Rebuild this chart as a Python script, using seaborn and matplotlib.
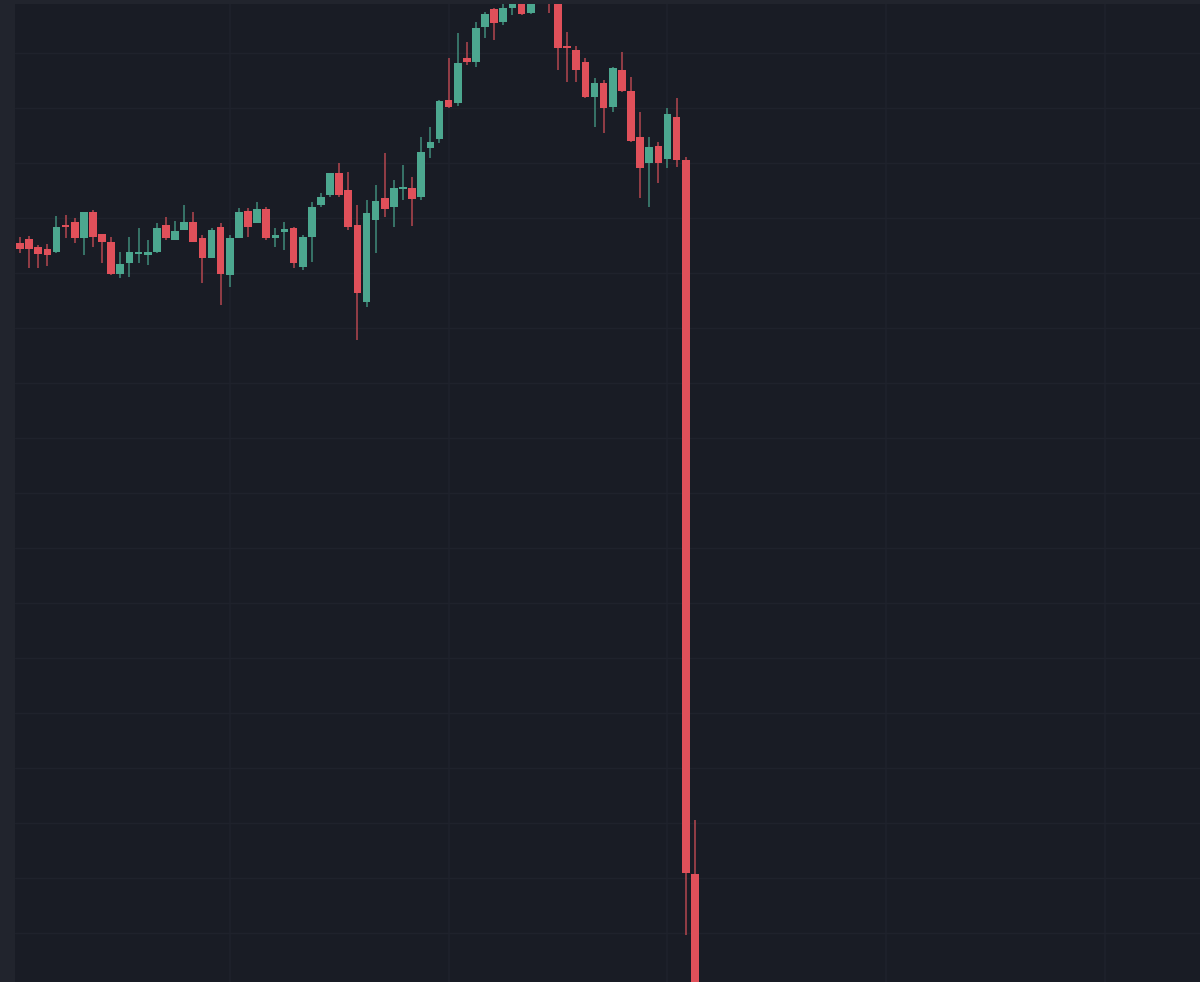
import numpy as np
import pandas as pd
import matplotlib
matplotlib.use("Agg")
import matplotlib.pyplot as plt
import seaborn as sns

# OHLC (arbitrary price units)
opens = [757, 761, 753, 751, 748, 775, 778, 762, 788, 766,
         758, 726, 737, 746, 745, 748, 775, 760, 770, 778,
         762, 742, 773, 725, 762, 789, 777, 791, 762, 768,
         772, 733, 763, 795, 805, 827, 810, 775, 698, 780,
         802, 793, 811, 812, 803, 852, 861, 900, 897, 942,
         938, 973, 991, 978, 992, 998, 987, 1012, 1035, 1025,
         954, 950, 938, 903, 917, 893, 930, 909, 863, 837,
         854, 841, 883, 840, 126]
highs = [763, 764, 755, 756, 784, 785, 782, 788, 790, 766,
         763, 748, 763, 772, 760, 777, 783, 779, 795, 788,
         765, 772, 777, 765, 792, 792, 798, 793, 772, 778,
         773, 765, 798, 807, 827, 837, 828, 795, 800, 815,
         847, 820, 835, 823, 863, 873, 900, 942, 967, 958,
         978, 988, 992, 1003, 1005, 1005, 1015, 1040, 1045, 1032,
         968, 954, 942, 922, 920, 933, 948, 923, 888, 863,
         858, 892, 902, 843, 180]
lows = [747, 732, 732, 734, 747, 762, 757, 745, 753, 737,
        725, 722, 723, 737, 735, 747, 760, 760, 770, 758,
        717, 742, 695, 713, 762, 763, 777, 760, 753, 750,
        732, 730, 738, 793, 803, 803, 770, 660, 693, 747,
        783, 773, 800, 774, 800, 842, 857, 892, 894, 935,
        933, 962, 960, 975, 985, 985, 986, 1005, 987, 930,
        918, 918, 902, 873, 867, 888, 908, 858, 802, 793,
        817, 832, 833, 65, -80]
closes = [751, 751, 746, 745, 773, 773, 762, 788, 763, 758,
          726, 736, 748, 748, 748, 772, 762, 769, 778, 758,
          742, 770, 726, 762, 788, 773, 791, 762, 765, 771,
          737, 763, 793, 803, 827, 805, 773, 707, 787, 799,
          791, 812, 813, 801, 848, 858, 899, 893, 937, 938,
          972, 986, 977, 992, 997, 986, 1010, 1030, 1005, 952,
          952, 930, 903, 917, 892, 932, 909, 859, 832, 853,
          837, 886, 840, 127, -50]

df = pd.DataFrame({"open": opens, "high": highs, "low": lows, "close": closes})
df["bar"] = np.arange(len(df))
df["up"] = df["close"] >= df["open"]

BG = "#191c25"
EDGE = "#21242d"
GREEN = "#4ca78f"
RED = "#e0505a"
GREEN_WICK = "#3f8c7a"
RED_WICK = "#b4474f"
GRID = "#1f222c"

sns.set_theme(style="dark", rc={"axes.facecolor": BG, "figure.facecolor": EDGE})

fig = plt.figure(figsize=(12, 9.82), dpi=100)
ax = fig.add_axes([15 / 1200, 0, 1185 / 1200, 978 / 982])
ax.set_facecolor(BG)

# grid
for gx in [23, 47, 71, 95, 119]:
    ax.axvline(gx, color=GRID, lw=1.2, zorder=0)
for gy in np.arange(947, 0, -55):
    ax.axhline(gy, color=GRID, lw=1.0, zorder=0)

# wicks
wick_cols = np.where(df["up"], GREEN_WICK, RED_WICK)
ax.vlines(df["bar"], df["low"], df["high"], colors=wick_cols, lw=1.1, zorder=2)

# bodies
body_bottom = df[["open", "close"]].min(axis=1)
body_height = (df["close"] - df["open"]).abs().clip(lower=2)
body_cols = np.where(df["up"], GREEN, RED)
ax.bar(df["bar"], body_height, bottom=body_bottom, width=0.84,
       color=body_cols, linewidth=0, zorder=3)

ax.set_xlim(-0.55, 129.4)
ax.set_ylim(18, 996)
ax.set_xticks([])
ax.set_yticks([])
for s in ax.spines.values():
    s.set_visible(False)

fig.savefig("out.png", dpi=100, facecolor=EDGE)
